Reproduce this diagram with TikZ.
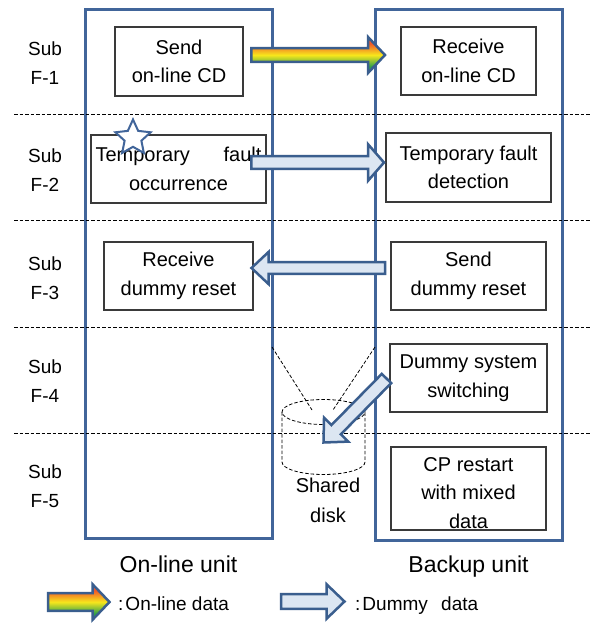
\documentclass[tikz,border=0pt]{standalone}
\usepackage{fontspec}
\setmainfont{Liberation Sans}
\usetikzlibrary{calc,shapes.geometric}

\definecolor{colblue}{HTML}{41659A}
\definecolor{arrowblue}{HTML}{3A5E8E}
\definecolor{dummyfill}{HTML}{DCE6F2}
\definecolor{boxgray}{HTML}{3A3A3A}
\definecolor{rbtop}{HTML}{F0592A}
\definecolor{rbmid}{HTML}{F8E71C}
\definecolor{rbbot}{HTML}{2FA04A}

% rainbow fill for on-line data arrows (bottom green, middle yellow, top orange)
\pgfdeclareverticalshading{rainbow}{100bp}{%
  color(0bp)=(rbbot); color(34bp)=(rbbot); color(50bp)=(rbmid);
  color(66bp)=(rbtop); color(100bp)=(rbtop)}

% block arrow: style, tail, tip, shaft half width, head half width, head length
\newcommand\blockarrow[6]{%
  \coordinate (ba-base) at ($(#3)!#6!(#2)$);
  \draw[#1] ($(#2)!#4!90:(#3)$) -- ($(ba-base)!#4!90:(#3)$)
    -- ($(ba-base)!#5!90:(#3)$) -- (#3) -- ($(ba-base)!#5!-90:(#3)$)
    -- ($(ba-base)!#4!-90:(#3)$) -- ($(#2)!#4!-90:(#3)$) -- cycle;
}

\tikzset{
  unitcol/.style={draw=colblue, line width=3pt},
  sepline/.style={draw=black, line width=0.8pt, dash pattern=on 3.5pt off 2pt},
  diskline/.style={draw=black, line width=0.8pt, dash pattern=on 3.5pt off 2pt},
  stepbox/.style={draw=boxgray, line width=1.1pt, fill=white, align=center, inner sep=0pt,
    font=\fontsize{20}{28.5}\selectfont},
  label/.style={align=center, inner sep=0pt},
  dummyarrow/.style={draw=arrowblue, line width=2.5pt, fill=dummyfill, line join=miter},
  onlinearrow/.style={draw=arrowblue, line width=2.5pt, line join=miter,
    shade, shading=rainbow},
  txt/.style={font=\fontsize{19}{28.5}\selectfont},
}

\begin{document}
\begin{tikzpicture}[x=1pt, y=-1pt, every node/.append style={txt}]
\useasboundingbox (0,0) rectangle (590,624);
\fill[white] (0,0) rectangle (590,624);

% the two units
\node[unitcol, minimum width=187pt, minimum height=529pt, inner sep=0pt] (online) at (178.5,273.5) {};
\node[unitcol, minimum width=187pt, minimum height=531pt, inner sep=0pt] (backup) at (468.5,274.5) {};

% sub-function separators
\foreach \y [count=\i] in {114,220,327,433} {
  \coordinate (sepL\i) at (14,\y);
  \coordinate (sepR\i) at (590,\y);
  \draw[sepline] (sepL\i) -- (sepR\i);
}

% sub-function labels
\node[label] (sf1) at (45,63) {Sub\\F-1};
\node[label] (sf2) at (45,170) {Sub\\F-2};
\node[label] (sf3) at (45,278) {Sub\\F-3};
\node[label] (sf4) at (45,381) {Sub\\F-4};
\node[label] (sf5) at (45,486) {Sub\\F-5};

% steps of the on-line unit
\node[stepbox, minimum width=128pt, minimum height=69pt] (sendcd) at (179,61.5) {Send\\on-line CD};
\node[stepbox, minimum width=175pt, minimum height=68pt] (faultocc) at (178.5,169)
  {\makebox[166pt]{Temporary\hfill fault}\\occurrence};
\node[stepbox, minimum width=149pt, minimum height=68pt] (recvreset) at (178.5,276) {Receive\\dummy reset};

% steps of the backup unit
\node[stepbox, minimum width=135pt, minimum height=68pt] (recvcd) at (468.5,61) {Receive\\on-line CD};
\node[stepbox, minimum width=165pt, minimum height=69pt] (faultdet) at (468.5,167.5) {Temporary fault\\detection};
\node[stepbox, minimum width=155pt, minimum height=68pt] (sendreset) at (468.5,276) {Send\\dummy reset};
\node[stepbox, minimum width=157pt, minimum height=68pt] (switching) at (468.5,378) {Dummy system\\switching};
\node[stepbox, minimum width=155pt, minimum height=83pt] (cprestart) at (468.5,488.5) {};
\node[label, font=\fontsize{20}{28.5}\selectfont] (cptext) at (468.5,493) {CP restart\\with mixed\\data};

% fault marker
\node[star, star points=5, star point ratio=2.1, minimum size=37pt, inner sep=0pt,
      draw=colblue, line width=2pt, fill=white] (faultstar) at (133,138) {};

% shared disk
\coordinate (diskTop) at (323.5,412);
\coordinate (diskBL) at (282,462);
\draw[diskline] (diskTop) ellipse [x radius=41.5pt, y radius=12.5pt];
\draw[diskline] (282,412) -- (diskBL) arc[start angle=180, end angle=360, x radius=41.5pt, y radius=12.5pt] -- (365,412);
\coordinate (zoomL) at (272,347);
\coordinate (zoomR) at (375,347);
\draw[diskline] (zoomL) -- (312,410);
\draw[diskline] (zoomR) -- (333,410);
\node[label, font=\fontsize{20}{30}\selectfont] (disk) at (328,500) {Shared\\disk};

% data flows
\coordinate (f1s) at (251.3,55);   \coordinate (f1e) at (385,55);
\coordinate (f2s) at (251.3,162.5); \coordinate (f2e) at (384,162.5);
\coordinate (f3s) at (385,268);    \coordinate (f3e) at (251.5,268);
\coordinate (f4s) at (386.5,378.5); \coordinate (f4e) at (323.5,442.5);
\blockarrow{onlinearrow}{f1s}{f1e}{6.8pt}{18pt}{17pt}
\blockarrow{dummyarrow}{f2s}{f2e}{6.3pt}{18.3pt}{16pt}
\blockarrow{dummyarrow}{f3s}{f3e}{5.8pt}{16pt}{17pt}
\blockarrow{dummyarrow}{f4s}{f4e}{6.6pt}{17pt}{18pt}

% unit names
\node[anchor=base, inner sep=0pt, font=\fontsize{23}{28}\selectfont] (onlinename) at (178.5,572) {On-line unit};
\node[anchor=base, inner sep=0pt, font=\fontsize{23}{28}\selectfont] (backupname) at (468.5,572) {Backup unit};

% legend
\coordinate (lg1s) at (48,602);  \coordinate (lg1e) at (109.5,602);
\coordinate (lg2s) at (281,601.5); \coordinate (lg2e) at (344.5,601.5);
\blockarrow{onlinearrow}{lg1s}{lg1e}{8.8pt}{17.8pt}{17pt}
\blockarrow{dummyarrow}{lg2s}{lg2e}{7.3pt}{17.3pt}{18pt}
\node[anchor=base west, inner sep=0pt] (lgtext1) at (118,610) {:\hspace{2pt}On-line data};
\node[anchor=base west, inner sep=0pt] (lgtext2) at (355,610) {:\hspace{2pt}Dummy\hspace{8pt} data};
\end{tikzpicture}
\end{document}
